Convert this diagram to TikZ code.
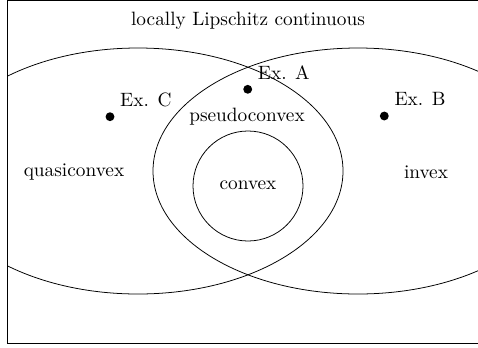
\documentclass[tikz,border=0pt]{standalone}
\usepackage{tikz}
\usetikzlibrary{positioning}

\tikzset{
  example/.style={circle, fill, inner sep=0pt, minimum size=4.6pt},
  setname/.style={inner sep=0pt}
}

\begin{document}
\begin{tikzpicture}[x=0.518pt, y=0.518pt, thin]
    \useasboundingbox (0,0) rectangle (478,347);
    \clip (0,0) rectangle (478,347);
    % frame: locally Lipschitz functions (right side cut off)
    \draw (490,346.6) -- (7,346.6) -- (7,4) -- (490,4);
    \node[setname] (lip) at (248,326) {locally Lipschitz continuous};
    \begin{scope}
        \clip (7,4) rectangle (490,346.6);
        \draw (138,176) ellipse [x radius=205, y radius=123];
        \draw (358,176) ellipse [x radius=205, y radius=123];
    \end{scope}
    \draw (248,161) circle [radius=55];
    \node[setname] (quasi) at (74,175) {quasiconvex};
    \node[setname] (inv) at (426,175) {invex};
    \node[setname] (pseudo) at (247,230.5) {pseudoconvex};
    \node[setname] (cvx) at (248,162) {convex};
    \node[example, label={above right:Ex. A}] (exA) at (247.7,257.7) {};
    \node[example, label={above right:Ex. B}] (exB) at (384.3,231) {};
    \node[example, label={above right:Ex. C}] (exC) at (110,230.3) {};
\end{tikzpicture}
\end{document}
